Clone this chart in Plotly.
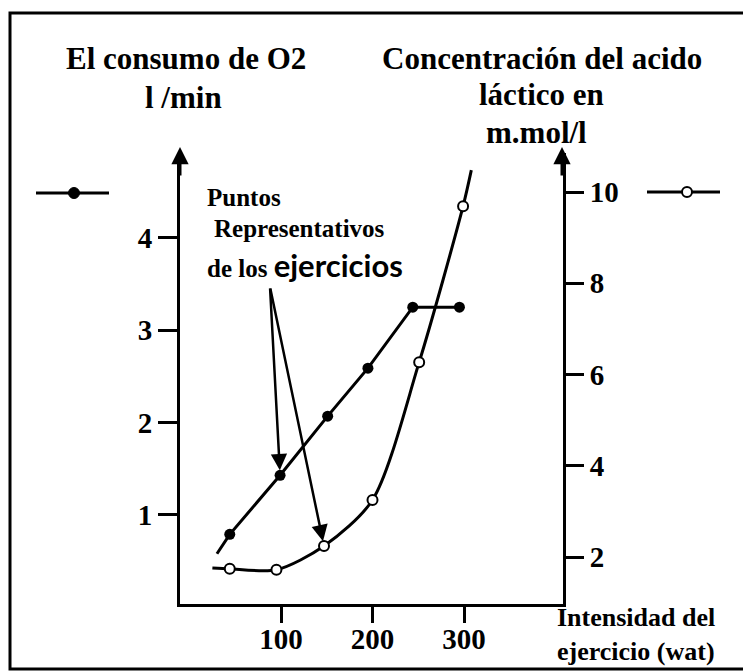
import plotly.graph_objects as go

# The page body has an 8px margin, so the figure is drawn 8px smaller and
# all target pixel positions are offset by that margin.
PAGE_W, PAGE_H = 751, 672
OFF = 8
W, H = PAGE_W - OFF, PAGE_H - OFF

# ---- data ----
o2_x = [44, 99, 151, 195, 244, 295]            # watts
o2_y = [0.79, 1.43, 2.07, 2.59, 3.25, 3.25]    # l/min
o2_line_start_x = [30]
o2_line_start_y = [0.58]

lac_x = [44, 95, 147, 200, 251, 299]           # watts
lac_y = [1.74, 1.72, 2.24, 3.25, 6.27, 9.69]   # mmol/l
lac_line_start_x = [25]
lac_line_start_y = [1.76]
lac_line_end_x = [308]
lac_line_end_y = [10.48]

x_ticks = [100, 200, 300]
y_left_ticks = [1, 2, 3, 4]
y_right_ticks = [2, 4, 6, 8, 10]

SERIF = "Liberation Serif"


def px(x):
    return (x - OFF) / W


def py(y):
    return (H - (y - OFF)) / H


fig = go.Figure()

# O2 line + markers
fig.add_trace(go.Scatter(
    x=o2_line_start_x + o2_x, y=o2_line_start_y + o2_y, mode="lines",
    line=dict(color="black", width=3), yaxis="y", hoverinfo="skip"))
fig.add_trace(go.Scatter(
    x=o2_x, y=o2_y, mode="markers",
    marker=dict(color="black", size=11), yaxis="y"))

# Lactate line + markers
fig.add_trace(go.Scatter(
    x=lac_line_start_x + lac_x + lac_line_end_x,
    y=lac_line_start_y + lac_y + lac_line_end_y, mode="lines",
    line=dict(color="black", width=3, shape="spline", smoothing=0.8),
    yaxis="y2", hoverinfo="skip"))
fig.add_trace(go.Scatter(
    x=lac_x, y=lac_y, mode="markers",
    marker=dict(color="white", size=10, line=dict(color="black", width=2)),
    yaxis="y2"))

# axis geometry (page pixels)
left_px, right_px, bottom_px, top_px = 180, 563, 604, 147
x_unit = 0.915          # px per watt
x_zero = 189.5
yl_unit, yl_zero = 92.33, 607.3
yr_unit, yr_zero = 45.625, 648.25

tickfont = dict(family=SERIF, size=29, color="black", weight="bold")

fig.update_layout(
    width=W, height=H,
    margin=dict(l=0, r=0, t=0, b=0),
    paper_bgcolor="white", plot_bgcolor="white",
    showlegend=False,
    xaxis=dict(
        domain=[px(left_px), px(right_px)],
        range=[(left_px - x_zero) / x_unit, (right_px - x_zero) / x_unit],
        showgrid=False, zeroline=False,
        showline=True, linecolor="black", linewidth=3,
        tickvals=x_ticks, ticks="outside", ticklen=16, tickwidth=3,
        tickcolor="black", tickfont=tickfont, ticklabelstandoff=-9,
    ),
    yaxis=dict(
        domain=[py(bottom_px), py(top_px + 6)],
        range=[(yl_zero - bottom_px) / yl_unit, (yl_zero - top_px - 6) / yl_unit],
        showgrid=False, zeroline=False,
        showline=True, linecolor="black", linewidth=3,
        tickvals=y_left_ticks, ticks="outside", ticklen=19, tickwidth=3,
        tickcolor="black", tickfont=tickfont,
    ),
    yaxis2=dict(
        domain=[py(bottom_px), py(top_px + 6)],
        range=[(yr_zero - bottom_px) / yr_unit, (yr_zero - top_px - 6) / yr_unit],
        overlaying="y", side="right", anchor="x",
        showgrid=False, zeroline=False,
        showline=True, linecolor="black", linewidth=3,
        tickvals=y_right_ticks, ticks="outside", ticklen=18, tickwidth=3,
        tickcolor="black", tickfont=tickfont,
    ),
)

ann = []


def text(x, y, s, size, anchor="center"):
    ann.append(dict(x=px(x), y=py(y), xref="paper", yref="paper", text=s,
                    showarrow=False, xanchor=anchor, yanchor="middle",
                    font=dict(family=SERIF, size=size, color="black", weight="bold")))


text(186, 58, "El consumo de O2", 31)
text(183, 97, "l /min", 31)
text(542, 58, "Concentración del acido", 31)
text(541, 95, "láctico en", 31)
text(536, 132, "m.mol/l", 31)

text(205, 197, "Puntos", 25, "left")
text(212, 228, "Representativos", 25, "left")
text(205, 265, "de los <span style=\"font-family:Lato;font-size:31px\">ejercicios</span>", 25, "left")

text(636, 617, "Intensidad del", 26)
text(636, 651, "ejercicio (wat)", 26)

# axis arrowheads
for xa in (left_px, 562):
    ann.append(dict(x=px(xa), y=py(top_px), xref="paper", yref="paper", text="",
                    showarrow=True, arrowhead=2, arrowsize=1.15, arrowwidth=3,
                    arrowcolor="black", ax=0, ay=30))

# pointer arrows to representative points
tail = (270, 287)
p1 = (x_zero + o2_x[1] * x_unit, yl_zero - o2_y[1] * yl_unit)
p2 = (x_zero + lac_x[2] * x_unit, yr_zero - lac_y[2] * yr_unit)
ann.append(dict(x=o2_x[1], y=o2_y[1], xref="x", yref="y", text="",
                showarrow=True, arrowhead=2, arrowsize=1.3, arrowwidth=2.5,
                arrowcolor="black", ax=tail[0] - p1[0], ay=tail[1] - p1[1], standoff=5))
ann.append(dict(x=lac_x[2], y=lac_y[2], xref="x", yref="y2", text="",
                showarrow=True, arrowhead=2, arrowsize=1.3, arrowwidth=2.5,
                arrowcolor="black", ax=tail[0] - p2[0], ay=tail[1] - p2[1], standoff=5))

fig.update_layout(annotations=ann)

shapes = [
    # outer frame
    dict(type="rect", xref="paper", yref="paper", x0=px(10), x1=px(747),
         y0=py(669), y1=py(13), line=dict(color="black", width=3)),
    # legend keys
    dict(type="line", xref="paper", yref="paper", x0=px(36), x1=px(109),
         y0=py(193), y1=py(193), line=dict(color="black", width=3)),
    dict(type="circle", xref="paper", yref="paper", xsizemode="pixel", ysizemode="pixel",
         xanchor=px(74), yanchor=py(193), x0=-5.5, x1=5.5, y0=-5.5, y1=5.5,
         fillcolor="black", line=dict(color="black", width=1)),
    dict(type="line", xref="paper", yref="paper", x0=px(647), x1=px(720),
         y0=py(192), y1=py(192), line=dict(color="black", width=3)),
    dict(type="circle", xref="paper", yref="paper", xsizemode="pixel", ysizemode="pixel",
         xanchor=px(687), yanchor=py(192), x0=-5, x1=5, y0=-5, y1=5,
         fillcolor="white", line=dict(color="black", width=2)),
]
fig.update_layout(shapes=shapes)

fig.write_html("out.html")
